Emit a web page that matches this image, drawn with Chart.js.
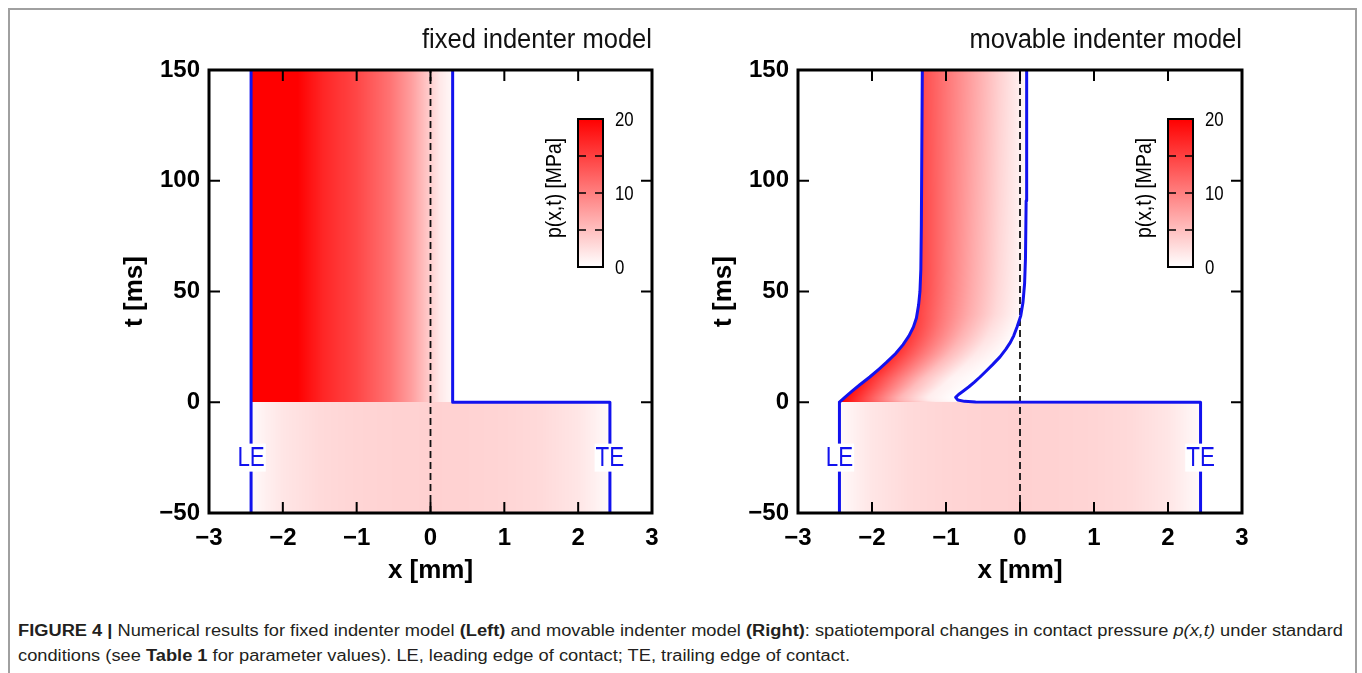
<!DOCTYPE html>
<html>
<head>
<meta charset="utf-8">
<script src="https://cdn.jsdelivr.net/npm/chart.js@4.4.1/dist/chart.umd.min.js"></script>
<style>
  html, body { margin: 0; padding: 0; background: #fff; }
  body { width: 1362px; height: 673px; position: relative; overflow: hidden; }
  .frame { position: absolute; left: 8px; top: 8px; width: 1349px; height: 700px;
           border: 2px solid #a0a0a0; box-sizing: border-box; }
  .panel { position: absolute; top: 20px; height: 580px; }
  #leftPanel { left: 100px; width: 570px; }
  #rightPanel { left: 689px; width: 571px; }
  .caption { position: absolute; left: 18px; top: 618px; color: #231f20;
             font-family: 'Liberation Sans', Arial, sans-serif; font-size: 16px; }
  .caption div { white-space: nowrap; display: inline-block; transform-origin: 0 0; line-height: 25px; }
</style>
</head>
<body>
<div class="frame"></div>
<div class="panel" id="leftPanel"><canvas id="fixedChart"></canvas></div>
<div class="panel" id="rightPanel"><canvas id="movableChart"></canvas></div>
<div class="caption">
  <div id="cap1"><b>FIGURE 4 |</b> Numerical results for fixed indenter model <b>(Left)</b> and movable indenter model <b>(Right)</b>: spatiotemporal changes in contact pressure <i>p(x,t)</i> under standard</div><br>
  <div id="cap2">conditions (see <b>Table 1</b> for parameter values). LE, leading edge of contact; TE, trailing edge of contact.</div>
</div>
<script>
const xTicks = [-3, -2, -1, 0, 1, 2, 3];
const tTicks = [-50, 0, 50, 100, 150];
const cbarLabels = [0, 10, 20];
const cbarMarks = [5, 10, 15];

// pressure across the contact before the indenter moves (t < 0), both models
const preX = [-2.43, -2.2, -2.0, -1.5, -1.0, -0.5, 0, 0.5, 1.0, 1.5, 2.0, 2.2, 2.43];
const preP = [0.4, 1.3, 2.0, 2.9, 3.3, 3.5, 3.6, 3.5, 3.3, 2.9, 2.0, 1.3, 0.4];

// fixed indenter model: contact edges and pressure for t > 0
const fixLeX = [-2.43, -2.43];
const fixLeT = [-50, 150];
const fixTeX = [2.43, 2.43, 0.3, 0.3];
const fixTeT = [-50, 0, 0, 150];
const fixPX = [-2.43, -1.8, -1.45, -1.0, -0.55, -0.25, -0.05, 0.13, 0.3];
const fixPP = [21, 20, 17, 14.5, 11, 7.5, 4.5, 1.8, 0.5];

// movable indenter model: contact edges
const movLeT = [-50, 0, 2, 5, 8, 11.4, 15, 18, 22, 26, 30, 34, 38, 44, 50, 60, 80, 150];
const movLeX = [-2.44, -2.44, -2.375, -2.27, -2.16, -2.03, -1.905, -1.805, -1.68, -1.58, -1.50, -1.44, -1.40, -1.37, -1.352, -1.34, -1.333, -1.32];
const movTeT = [-50, 0, 0.15, 0.4, 1.0, 2.2, 3.5, 5, 7, 9, 11.4, 14, 17, 20.5, 24, 27, 30, 34, 39, 45, 53.6, 65, 91, 150];
const movTeX = [2.44, 2.44, -0.6, -0.75, -0.84, -0.87, -0.83, -0.77, -0.69, -0.62, -0.54, -0.46, -0.37, -0.27, -0.19, -0.13, -0.085, -0.04, 0.01, 0.04, 0.062, 0.074, 0.083, 0.09];
// movable model pressure: rows in t, columns across the contact (0 = LE, 1 = TE)
const movRowT = [0, 11, 40, 150];
const movRowS = [0, 0.25, 0.5, 0.75, 1];
const movRowP = [
  [20, 13, 6, 1.5, 0],
  [17, 11, 5, 1, 0],
  [15, 10.5, 6.5, 3, 0.4],
  [14, 10.5, 7, 3.5, 0.5]
];

const FONT = "'Liberation Sans', Arial, sans-serif";
const BLUE = '#1212ee';
const edgeLabelT = -25;

function interp(xs, ys, v) {
  if (v <= xs[0]) return ys[0];
  for (let i = 1; i < xs.length; i++) {
    if (v <= xs[i]) {
      const k = (v - xs[i - 1]) / (xs[i] - xs[i - 1]);
      return ys[i - 1] + k * (ys[i] - ys[i - 1]);
    }
  }
  return ys[ys.length - 1];
}

function fixedField(x, t) {
  return t < 0 ? interp(preX, preP, x) : interp(fixPX, fixPP, x);
}

function movableField(x, t) {
  if (t < 0) return interp(preX, preP, x);
  const le = interp(movLeT.slice(1), movLeX.slice(1), t);
  const te = interp(movTeT.slice(2), movTeX.slice(2), t);
  const s = (x - le) / (te - le);
  const atS = movRowP.map(row => interp(movRowS, row, s));
  return interp(movRowT, atS, t);
}

function pressureRGB(p) {
  const f = Math.max(0, Math.min(1, p / cbarLabels[cbarLabels.length - 1]));
  const gb = Math.round(255 * (1 - f));
  return [255, gb, gb];
}

function heatPattern(chart, field) {
  const a = chart.chartArea;
  if (!a) return 'rgba(0,0,0,0)';
  const key = [chart.width, chart.height, a.left, a.top, a.right, a.bottom].join();
  if (chart.$heat && chart.$heat.key === key) return chart.$heat.pattern;
  const cv = document.createElement('canvas');
  cv.width = chart.canvas.width;
  cv.height = chart.canvas.height;
  const c = cv.getContext('2d');
  const x0 = Math.floor(a.left), y0 = Math.floor(a.top);
  const w = Math.ceil(a.right) - x0, h = Math.ceil(a.bottom) - y0;
  const img = c.createImageData(w, h);
  const sx = chart.scales.x, sy = chart.scales.y;
  for (let j = 0; j < h; j++) {
    const t = sy.getValueForPixel(y0 + j + 0.5);
    for (let i = 0; i < w; i++) {
      const rgb = pressureRGB(field(sx.getValueForPixel(x0 + i + 0.5), t));
      const o = 4 * (j * w + i);
      img.data[o] = rgb[0]; img.data[o + 1] = rgb[1]; img.data[o + 2] = rgb[2]; img.data[o + 3] = 255;
    }
  }
  c.putImageData(img, x0, y0);
  const pattern = chart.ctx.createPattern(cv, 'no-repeat');
  chart.$heat = {key, pattern};
  return pattern;
}

const pts = (xs, ts) => xs.map((x, i) => ({x, y: ts[i]}));

// narrow-looking text: squeeze horizontally
function squeezed(ctx, txt, x, y, sx, rot) {
  ctx.save();
  ctx.translate(x, y);
  if (rot) ctx.rotate(rot);
  ctx.scale(sx, 1);
  ctx.fillText(txt, 0, 0);
  ctx.restore();
}

const panelDecor = {
  id: 'panelDecor',
  afterDatasetsDraw(chart, args, opts) {
    const {ctx, chartArea: a, scales: {x, y}} = chart;
    ctx.save();

    // inward ticks on all four sides
    ctx.strokeStyle = '#000';
    ctx.lineWidth = 2;
    ctx.beginPath();
    xTicks.forEach(v => {
      const px = x.getPixelForValue(v);
      ctx.moveTo(px, a.bottom); ctx.lineTo(px, a.bottom - 11);
      ctx.moveTo(px, a.top); ctx.lineTo(px, a.top + 11);
    });
    tTicks.forEach(v => {
      const py = y.getPixelForValue(v);
      ctx.moveTo(a.left, py); ctx.lineTo(a.left + 11, py);
      ctx.moveTo(a.right, py); ctx.lineTo(a.right - 11, py);
    });
    ctx.stroke();

    // frame
    ctx.lineWidth = 3;
    ctx.strokeRect(a.left, a.top, a.right - a.left, a.bottom - a.top);

    // LE / TE labels
    ctx.font = '28px ' + FONT;
    ctx.textAlign = 'center';
    ctx.textBaseline = 'middle';
    [['LE', opts.le], ['TE', opts.te]].forEach(([txt, xv]) => {
      const px = x.getPixelForValue(xv), py = y.getPixelForValue(edgeLabelT);
      const tw = ctx.measureText(txt).width * 0.8;
      ctx.fillStyle = '#fff';
      ctx.fillRect(px - tw / 2 - 1, py - 14, tw + 2, 28);
      ctx.fillStyle = BLUE;
      squeezed(ctx, txt, px, py + 1, 0.8);
    });

    // colour bar
    const cbL = a.right - 74, cbW = 25, cbT = a.top + 49, cbH = 148;
    const cmax = cbarLabels[cbarLabels.length - 1];
    const g = ctx.createLinearGradient(0, cbT + cbH, 0, cbT);
    g.addColorStop(0, 'rgb(255,255,255)');
    g.addColorStop(1, 'rgb(255,0,0)');
    ctx.fillStyle = g;
    ctx.fillRect(cbL, cbT, cbW, cbH);
    ctx.strokeStyle = '#000';
    ctx.lineWidth = 1.5;
    ctx.beginPath();
    cbarMarks.forEach(v => {
      const py = cbT + cbH - v / cmax * cbH;
      ctx.moveTo(cbL, py); ctx.lineTo(cbL + 8, py);
      ctx.moveTo(cbL + cbW, py); ctx.lineTo(cbL + cbW - 8, py);
    });
    ctx.stroke();
    ctx.lineWidth = 2;
    ctx.strokeRect(cbL, cbT, cbW, cbH);
    ctx.fillStyle = '#000';
    ctx.font = '21px ' + FONT;
    ctx.textAlign = 'left';
    cbarLabels.forEach(v => {
      squeezed(ctx, String(v), cbL + cbW + 12, cbT + cbH - v / cmax * cbH + 1, 0.8);
    });
    ctx.textAlign = 'center';
    ctx.font = '22px ' + FONT;
    squeezed(ctx, 'p(x,t) [MPa]', cbL - 23, cbT + cbH / 2 - 5, 0.88, -Math.PI / 2);

    // panel title
    ctx.font = '27px ' + FONT;
    ctx.textAlign = 'right';
    ctx.textBaseline = 'alphabetic';
    ctx.fillStyle = '#111';
    squeezed(ctx, opts.title, a.right, a.top - 22, 0.946);
    ctx.restore();
  }
};

function makeChart(id, title, field, leX, leT, teX, teT) {
  const lePts = pts(leX, leT);
  const tePts = pts(teX, teT);
  const shape = tePts.concat(lePts.slice().reverse());
  return new Chart(document.getElementById(id), {
    type: 'line',
    data: {
      datasets: [
        { data: lePts, borderColor: BLUE, borderWidth: 3, pointRadius: 0, fill: false, tension: 0 },
        { data: tePts, borderColor: BLUE, borderWidth: 3, pointRadius: 0, fill: false, tension: 0,
          borderJoinStyle: 'round' },
        { data: pts([0, 0], [tTicks[0], tTicks[tTicks.length - 1]]), borderColor: '#111', borderWidth: 1.8,
          borderDash: [7, 4], pointRadius: 0, fill: false },
        { data: shape, borderColor: 'rgba(0,0,0,0)', borderWidth: 1, pointRadius: 0, fill: 'shape',
          backgroundColor: c => heatPattern(c.chart, field) }
      ]
    },
    options: {
      responsive: true,
      maintainAspectRatio: false,
      animation: false,
      events: [],
      layout: { padding: { top: 50, right: 18, bottom: 0, left: 0 } },
      plugins: {
        legend: { display: false },
        tooltip: { enabled: false },
        panelDecor: { title, le: leX[0], te: teX[0] }
      },
      scales: {
        x: {
          type: 'linear', min: xTicks[0], max: xTicks[xTicks.length - 1],
          afterBuildTicks: s => { s.ticks = xTicks.map(v => ({value: v})); },
          afterFit: s => { s.height = 87; },
          grid: { display: false, drawTicks: false },
          border: { display: false },
          ticks: { padding: 11, color: '#000', maxRotation: 0,
                   font: { family: FONT, size: 24, weight: 'bold' },
                   callback: v => String(v).replace('-', '\u2212') },
          title: { display: true, text: 'x [mm]', color: '#000', padding: { bottom: 14 },
                   font: { family: FONT, size: 26, weight: 'bold' } }
        },
        y: {
          type: 'linear', min: tTicks[0], max: tTicks[tTicks.length - 1],
          afterBuildTicks: s => { s.ticks = tTicks.map(v => ({value: v})); },
          afterFit: s => { s.width = 109; },
          grid: { display: false, drawTicks: false },
          border: { display: false },
          ticks: { padding: 9, color: '#000',
                   font: { family: FONT, size: 24, weight: 'bold' },
                   callback: v => String(v).replace('-', '\u2212') },
          title: { display: true, text: 't [ms]', color: '#000', padding: { top: 19 },
                   font: { family: FONT, size: 26, weight: 'bold' } }
        }
      }
    },
    plugins: [panelDecor]
  });
}

makeChart('fixedChart', 'fixed indenter model', fixedField, fixLeX, fixLeT, fixTeX, fixTeT);
makeChart('movableChart', 'movable indenter model', movableField, movLeX, movLeT, movTeX, movTeT);

// fit the caption to the reference line width
const cap1 = document.getElementById('cap1'), cap2 = document.getElementById('cap2');
const k = 1325 / cap1.getBoundingClientRect().width;
cap1.style.transform = cap2.style.transform = 'scaleX(' + k.toFixed(4) + ')';
</script>
</body>
</html>
